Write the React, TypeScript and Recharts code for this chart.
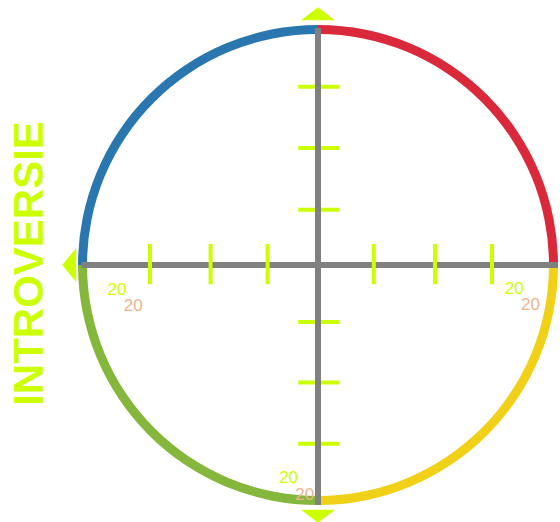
import {
  PieChart,
  Pie,
  Cell,
  ScatterChart,
  Scatter,
  XAxis,
  YAxis,
  ReferenceLine,
  Label,
} from "recharts"

const W = 560
const H = 522
const LIME = "#ccff00"
const GREY = "#808080"
const TAN = "#ebb48f"

// four quadrants of the ring, counter-clockwise from 3 o'clock
const quadrants = [
  { name: "rechtsboven", value: 1, color: "#d9293a" },
  { name: "linksboven", value: 1, color: "#2a77af" },
  { name: "linksonder", value: 1, color: "#84b73b" },
  { name: "rechtsonder", value: 1, color: "#f1d117" },
]

const xTicks = [-28, -17.9, -8.4, 9.3, 19.5, 29]
const yTicks = [29.7, 19.5, 9.2, -9.5, -19.6, -29.8]

const arrows = [
  { x: 0, y: 40.8, dir: "up" },
  { x: -40.3, y: 0, dir: "left" },
  { x: 0, y: -40.8, dir: "down" },
]

const limeLabels = [
  { x: -33.5, y: -4.0, text: "20" },
  { x: 32.7, y: -3.9, text: "20" },
  { x: -4.9, y: -35.4, text: "20" },
]

const tanLabels = [
  { x: -30.8, y: -6.6, text: "20" },
  { x: 35.4, y: -6.5, text: "20" },
  { x: -2.2, y: -38.1, text: "20" },
]

function Arrow(props: any) {
  const { cx, cy, payload } = props
  const hw = 17
  let pts = ""
  if (payload.dir === "up") pts = `${cx - hw},${cy} ${cx + hw},${cy} ${cx},${cy - 13}`
  if (payload.dir === "down") pts = `${cx - hw},${cy} ${cx + hw},${cy} ${cx},${cy + 13}`
  if (payload.dir === "left") pts = `${cx},${cy - hw} ${cx},${cy + hw} ${cx - 14},${cy}`
  return <polygon points={pts} fill={LIME} />
}

function makeText(color: string) {
  return (props: any) => {
    const { cx, cy, payload } = props
    return (
      <text
        x={cx}
        y={cy + 6}
        textAnchor="middle"
        fill={color}
        fontSize={17}
        fontFamily="Liberation Sans, Arial, sans-serif"
      >
        {payload.text}
      </text>
    )
  }
}

export default function App() {
  return (
    <div style={{ position: "absolute", left: 0, top: 0, width: W, height: H, background: "#fff" }}>
      <div style={{ position: "absolute", left: 0, top: 0 }}>
        <PieChart width={W} height={H} margin={{ top: 0, right: 0, bottom: 0, left: 0 }}>
          <Pie
            data={quadrants}
            dataKey="value"
            nameKey="name"
            cx={318}
            cy={265}
            innerRadius={231}
            outerRadius={240}
            startAngle={0}
            endAngle={360}
            stroke="none"
            isAnimationActive={false}
          >
            {quadrants.map((q) => (
              <Cell key={q.name} fill={q.color} />
            ))}
          </Pie>
        </PieChart>
      </div>
      <div style={{ position: "absolute", left: 0, top: 0 }}>
        <ScatterChart width={W} height={H} margin={{ top: 7, right: 2, bottom: 2, left: 0 }}>
          <XAxis type="number" dataKey="x" domain={[-45, 40]} hide />
          <YAxis
            type="number"
            dataKey="y"
            domain={[-42.5, 43]}
            width={48}
            axisLine={false}
            tickLine={false}
            tick={false}
          >
            <Label
              value="INTROVERSIE"
              angle={-90}
              position="center"
              dx={4}
              fill={LIME}
              fontSize={42}
              fontWeight="bold"
              fontFamily="Liberation Sans, Arial, sans-serif"
            />
          </YAxis>
          <ReferenceLine
            segment={[{ x: -39.4, y: 0 }, { x: 40, y: 0 }]}
            stroke={GREY}
            strokeWidth={6}
          />
          {xTicks.map((t) => (
            <ReferenceLine
              key={`x${t}`}
              segment={[{ x: t, y: -3.2 }, { x: t, y: 3.5 }]}
              stroke={LIME}
              strokeWidth={4}
            />
          ))}
          {yTicks.map((t) => (
            <ReferenceLine
              key={`y${t}`}
              segment={[{ x: -3.3, y: t }, { x: 3.55, y: t }]}
              stroke={LIME}
              strokeWidth={4}
            />
          ))}
          <ReferenceLine
            segment={[{ x: 0, y: 39.5 }, { x: 0, y: -40 }]}
            stroke={GREY}
            strokeWidth={6}
          />
          <Scatter data={arrows} shape={Arrow} isAnimationActive={false} />
          <Scatter data={limeLabels} shape={makeText(LIME)} isAnimationActive={false} />
          <Scatter data={tanLabels} shape={makeText(TAN)} isAnimationActive={false} />
        </ScatterChart>
      </div>
    </div>
  )
}
